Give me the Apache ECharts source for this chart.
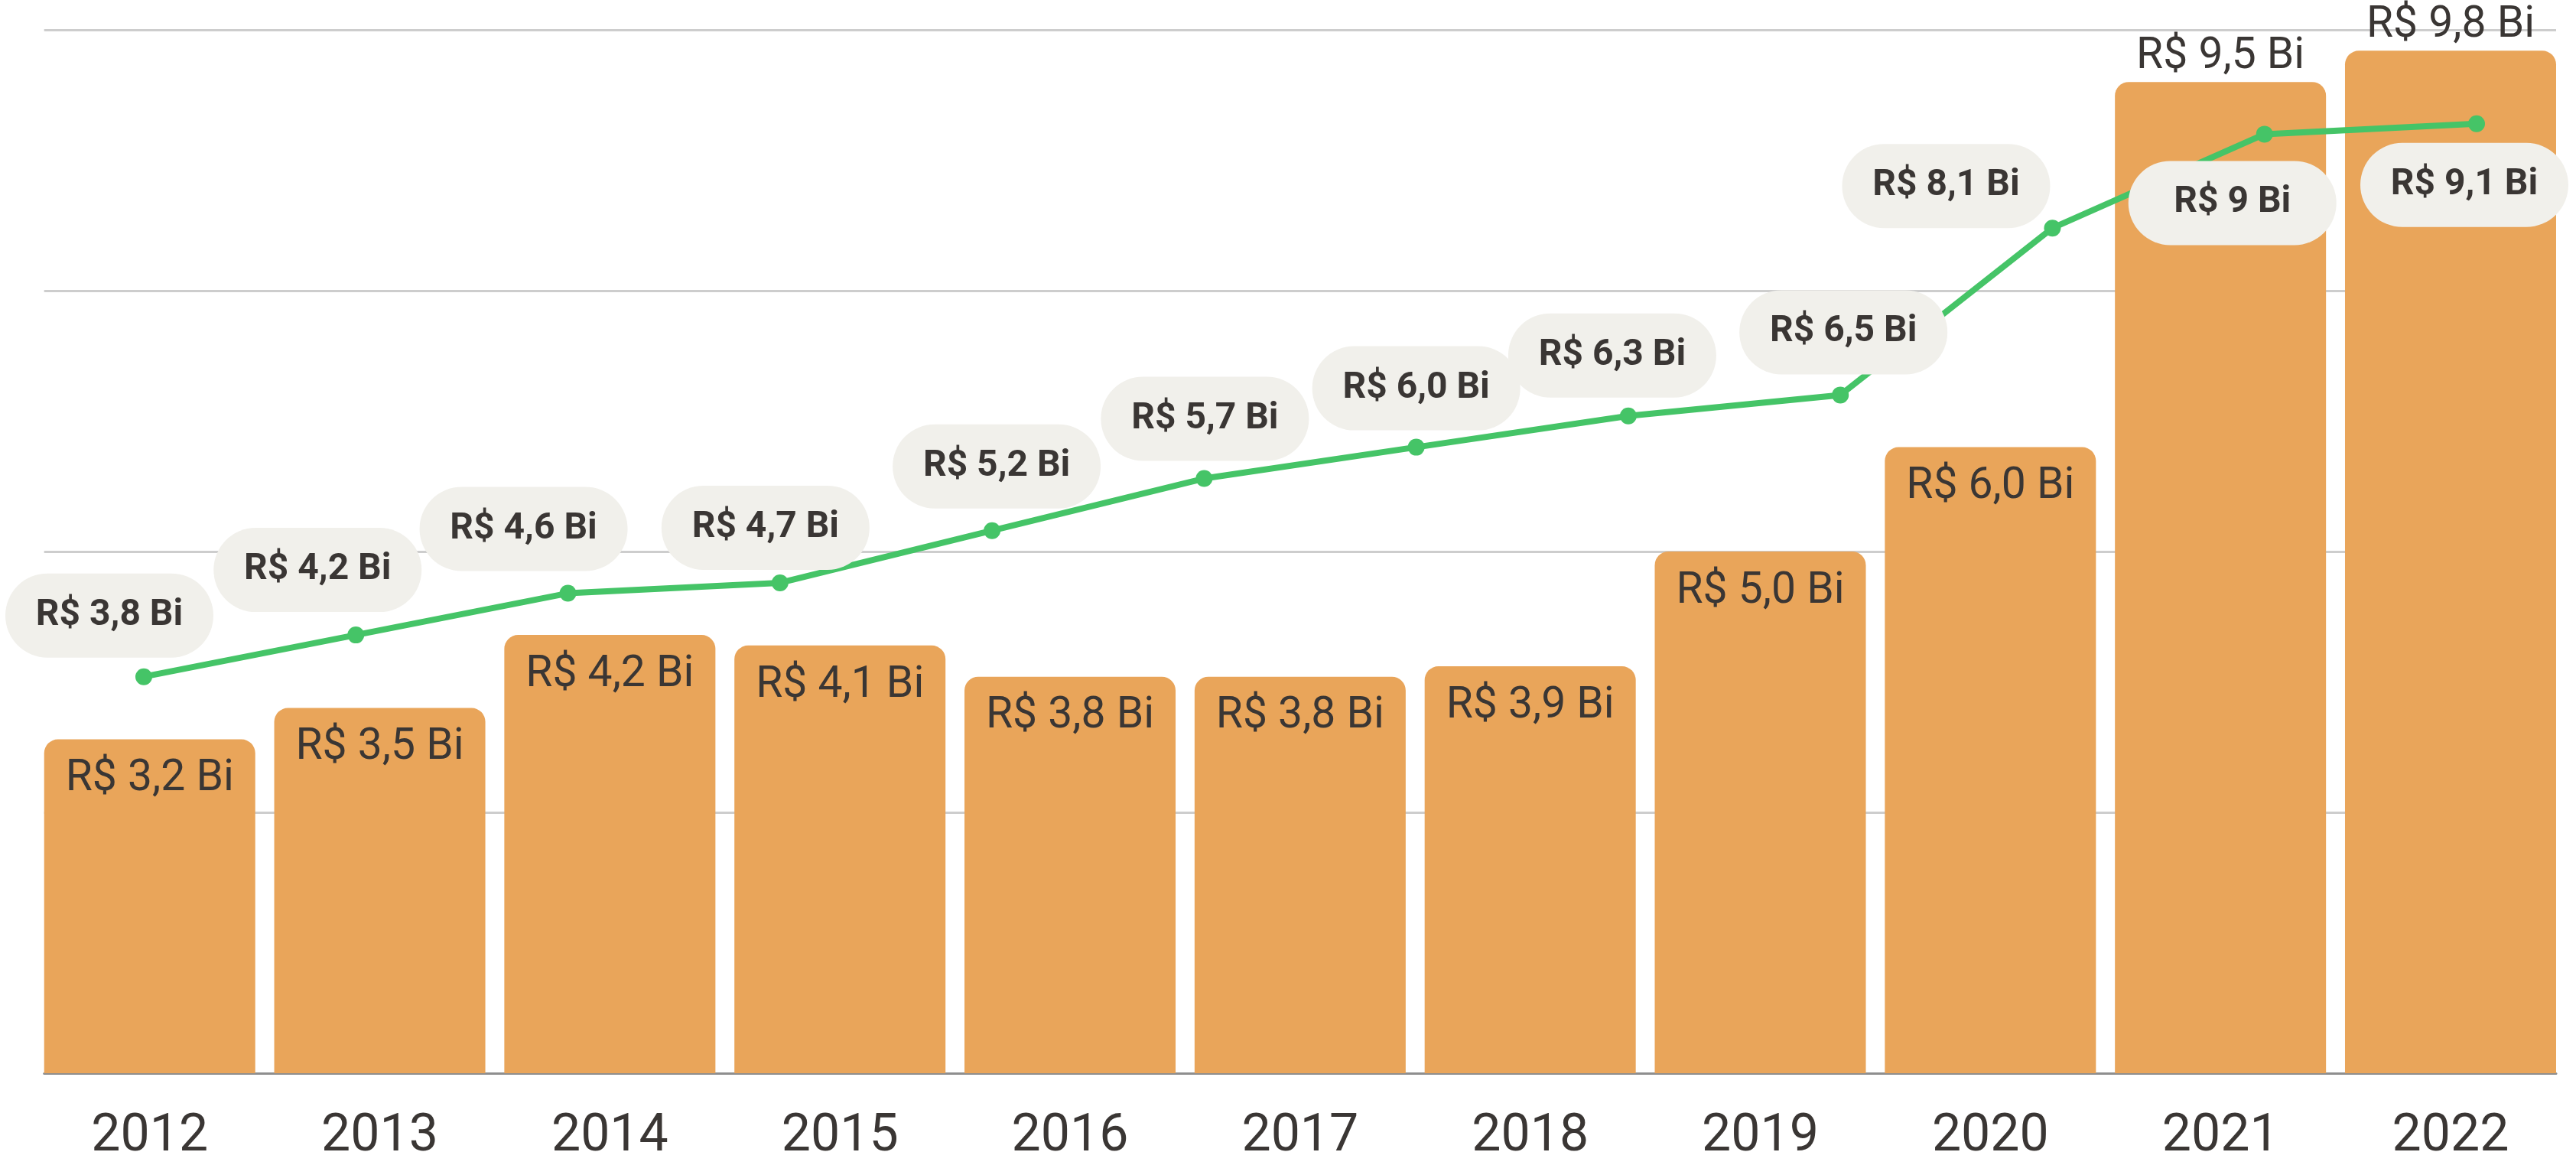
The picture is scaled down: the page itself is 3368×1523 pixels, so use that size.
<!DOCTYPE html>
<html>
<head>
<meta charset="utf-8">
<script src="https://cdn.jsdelivr.net/npm/echarts@6/dist/echarts.min.js"></script>
<style>
html,body{margin:0;padding:0;background:#ffffff;}
#chart{width:3368px;height:1523px;}
</style>
</head>
<body>
<div id="chart"></div>
<script>
// ---- data ----
const years = ['2012','2013','2014','2015','2016','2017','2018','2019','2020','2021','2022'];
const barValues = [3.2, 3.5, 4.2, 4.1, 3.8, 3.8, 3.9, 5.0, 6.0, 9.5, 9.8];
const barLabels = ['R$ 3,2 Bi','R$ 3,5 Bi','R$ 4,2 Bi','R$ 4,1 Bi','R$ 3,8 Bi','R$ 3,8 Bi','R$ 3,9 Bi','R$ 5,0 Bi','R$ 6,0 Bi','R$ 9,5 Bi','R$ 9,8 Bi'];
const linePoints = ['1','2','3','4','5','6','7','8','9','10','11','12'];
const lineValues = [3.8, 4.2, 4.6, 4.7, 5.2, 5.7, 6.0, 6.3, 6.5, 8.1, 9.0, 9.1];
const lineLabels = ['R$ 3,8 Bi','R$ 4,2 Bi','R$ 4,6 Bi','R$ 4,7 Bi','R$ 5,2 Bi','R$ 5,7 Bi','R$ 6,0 Bi','R$ 6,3 Bi','R$ 6,5 Bi','R$ 8,1 Bi','R$ 9 Bi','R$ 9,1 Bi'];
const yMin = 0, yMax = 10, yInterval = 2.5;

// ---- layout / style (not data) ----
const barLabelAbove = [false,false,false,false,false,false,false,false,false,true,true];
const lineLabelOffsets = [[-45,-80],[-50,-85],[-58,-84],[-19,-72],[6,-84],[1,-78],[0,-77],[-21,-79],[4,-82],[-139,-55],[-42,90],[-16,80]];
const TEXT = '#3a3634';
const FONT = 'Roboto';

const chart = echarts.init(document.getElementById('chart'), null, {renderer:'canvas'});

const barData = barValues.map((v, i) => ({
  value: v,
  label: barLabelAbove[i]
    ? {position: 'top', distance: 4}
    : {position: 'insideTop', distance: 24}
}));

const lineData = lineValues.map((v, i) => ({
  value: v,
  label: {offset: lineLabelOffsets[i]}
}));

const option = {
  backgroundColor: '#ffffff',
  animation: false,
  grid: [
    {left: 45.3, right: 13.6, top: 39, bottom: 120},
    {left: 188, right: 130, top: 39, bottom: 120},
    {left: 57.7, right: 26, top: 39, bottom: 120}
  ],
  xAxis: [
    {
      gridIndex: 0, type: 'category', data: years, boundaryGap: true,
      axisLine: {show: false}, axisTick: {show: false},
      axisLabel: {color: TEXT, fontFamily: FONT, fontSize: 68, fontWeight: 400, margin: 50}
    },
    {
      gridIndex: 1, type: 'category', data: linePoints, boundaryGap: false, show: false
    },
    {
      gridIndex: 2, type: 'value', min: 0, max: 1,
      axisLine: {show: true, lineStyle: {color: '#8e8e8e', width: 3}},
      axisTick: {show: false}, axisLabel: {show: false}, splitLine: {show: false}
    }
  ],
  yAxis: [
    {gridIndex: 0, type: 'value', min: yMin, max: yMax, interval: yInterval, show: false, splitLine: {show: false}},
    {gridIndex: 1, type: 'value', min: yMin, max: yMax, interval: yInterval, show: false, splitLine: {show: false}},
    {
      gridIndex: 2, type: 'value', min: yMin, max: yMax, interval: yInterval,
      axisLine: {show: false}, axisTick: {show: false}, axisLabel: {show: false},
      splitLine: {show: true, lineStyle: {color: '#cdcdcd', width: 3}}
    }
  ],
  series: [
    {
      type: 'bar', xAxisIndex: 0, yAxisIndex: 0,
      data: barData,
      barCategoryGap: '8.25%',
      itemStyle: {color: '#e9a55a', borderRadius: [18, 18, 0, 0]},
      label: {
        show: true,
        formatter: p => barLabels[p.dataIndex],
        color: TEXT, fontFamily: FONT, fontSize: 57, fontWeight: 400
      },
      z: 2
    },
    {
      type: 'line', xAxisIndex: 1, yAxisIndex: 1,
      data: lineData,
      symbol: 'circle', symbolSize: 22,
      lineStyle: {color: '#45c467', width: 8},
      itemStyle: {color: '#45c467'},
      label: {
        show: true, position: 'inside',
        formatter: p => lineLabels[p.dataIndex],
        color: TEXT, fontFamily: FONT, fontSize: 48, fontWeight: 700,
        backgroundColor: '#f1f0eb',
        width: 272, align: 'center', lineHeight: 58,
        padding: [26, 0, 26, 0],
        borderRadius: 55
      },
      z: 3
    }
  ]
};
chart.setOption(option);
</script>
</body>
</html>
